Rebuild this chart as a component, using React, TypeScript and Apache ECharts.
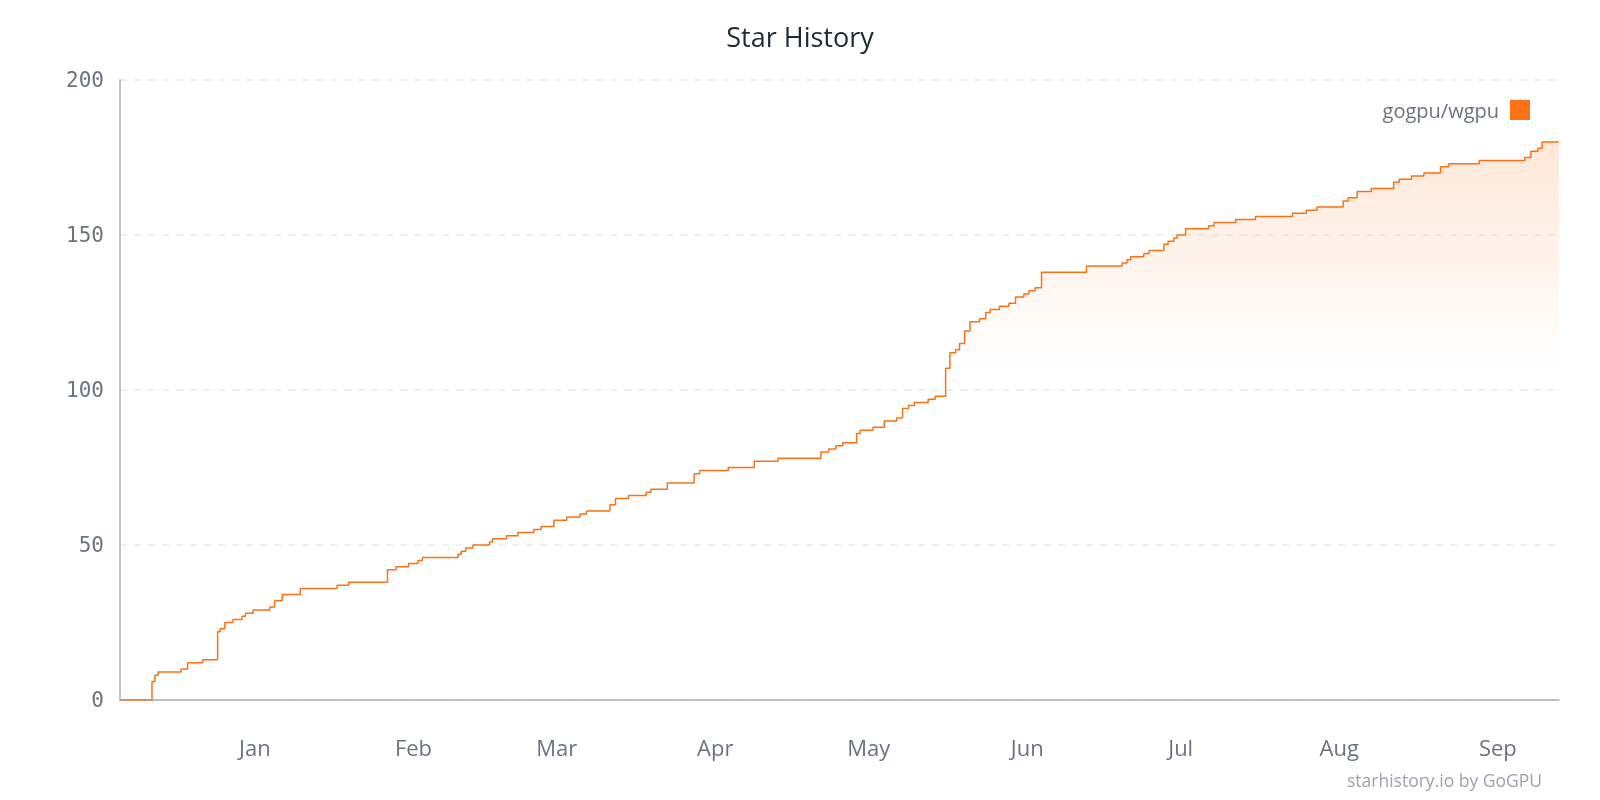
import React, { useEffect, useRef } from 'react'
import * as echarts from 'echarts'

// star count steps (date of each new count)
const starDates = [
  '2024-12-05 15:00', '2024-12-11 21:00', '2024-12-12 11:00', '2024-12-13 01:00', '2024-12-17 14:00',
  '2024-12-18 20:00', '2024-12-21 19:00', '2024-12-24 17:00', '2024-12-25 05:00', '2024-12-26 03:00',
  '2024-12-27 17:00', '2024-12-29 12:00', '2024-12-30 04:00', '2024-12-31 16:00', '2025-01-03 22:00',
  '2025-01-04 20:00', '2025-01-06 08:00', '2025-01-09 21:00', '2025-01-17 02:00', '2025-01-19 08:00',
  '2025-01-26 22:00', '2025-01-28 14:00', '2025-01-31 01:00', '2025-02-01 21:00', '2025-02-02 18:00',
  '2025-02-09 17:00', '2025-02-10 08:00', '2025-02-11 05:00', '2025-02-12 15:00', '2025-02-15 21:00',
  '2025-02-16 11:00', '2025-02-19 05:00', '2025-02-21 10:00', '2025-02-24 13:00', '2025-02-25 23:00',
  '2025-02-28 11:00', '2025-03-02 23:00', '2025-03-05 13:00', '2025-03-06 20:00', '2025-03-11 10:00',
  '2025-03-12 12:00', '2025-03-15 01:00', '2025-03-18 12:00', '2025-03-19 10:00', '2025-03-22 15:00',
  '2025-03-27 21:00', '2025-03-28 23:00', '2025-04-03 13:00', '2025-04-08 15:00', '2025-04-13 07:00',
  '2025-04-21 16:00', '2025-04-23 04:00', '2025-04-24 14:00', '2025-04-25 22:00', '2025-04-28 15:00',
  '2025-04-29 08:00', '2025-05-01 20:00', '2025-05-04 01:00', '2025-05-06 11:00', '2025-05-07 15:00',
  '2025-05-08 19:00', '2025-05-09 23:00', '2025-05-12 15:00', '2025-05-14 00:00', '2025-05-16 01:00',
  '2025-05-16 21:00', '2025-05-18 00:00', '2025-05-18 18:00', '2025-05-19 18:00', '2025-05-20 19:00',
  '2025-05-22 16:00', '2025-05-23 21:00', '2025-05-24 18:00', '2025-05-26 14:00', '2025-05-28 10:00',
  '2025-05-29 17:00', '2025-05-31 08:00', '2025-06-01 08:00', '2025-06-02 13:00', '2025-06-03 19:00',
  '2025-06-12 14:00', '2025-06-19 13:00', '2025-06-20 12:00', '2025-06-21 05:00', '2025-06-23 19:00',
  '2025-06-24 20:00', '2025-06-27 17:00', '2025-06-28 13:00', '2025-06-29 16:00', '2025-06-30 07:00',
  '2025-07-01 23:00', '2025-07-06 11:00', '2025-07-07 13:00', '2025-07-11 18:00', '2025-07-15 15:00',
  '2025-07-22 20:00', '2025-07-25 13:00', '2025-07-27 15:00', '2025-08-01 18:00', '2025-08-02 18:00',
  '2025-08-04 12:00', '2025-08-07 06:00', '2025-08-11 15:00', '2025-08-12 17:00', '2025-08-15 03:00',
  '2025-08-17 13:00', '2025-08-20 19:00', '2025-08-22 10:00', '2025-08-28 09:00', '2025-09-06 06:00',
  '2025-09-07 11:00', '2025-09-08 20:00', '2025-09-09 16:00', '2025-09-12 23:00',
]

const starCounts = [
  0, 6, 8, 9, 10,
  12, 13, 22, 23, 25,
  26, 27, 28, 29, 30,
  32, 34, 36, 37, 38,
  42, 43, 44, 45, 46,
  47, 48, 49, 50, 51,
  52, 53, 54, 55, 56,
  58, 59, 60, 61, 63,
  65, 66, 67, 68, 70,
  73, 74, 75, 77, 78,
  80, 81, 82, 83, 86,
  87, 88, 90, 91, 94,
  95, 96, 97, 98, 107,
  112, 113, 115, 119, 122,
  123, 125, 126, 127, 128,
  130, 131, 132, 133, 138,
  140, 141, 142, 143, 144,
  145, 147, 148, 149, 150,
  152, 153, 154, 155, 156,
  157, 158, 159, 161, 162,
  164, 165, 167, 168, 169,
  170, 172, 173, 174, 175,
  177, 178, 180, 180,
]

const monthStarts = [
  '2025-01-01', '2025-02-01', '2025-03-01', '2025-04-01', '2025-05-01',
  '2025-06-01', '2025-07-01', '2025-08-01', '2025-09-01',
]
const monthNames = ['Jan', 'Feb', 'Mar', 'Apr', 'May', 'Jun', 'Jul', 'Aug', 'Sep', 'Oct', 'Nov', 'Dec']

const repoName = 'gogpu/wgpu'
const orange = '#f97316'
const sans = '"Open Sans", sans-serif'

const toTime = (s: string) => {
  const [d, t] = s.split(' ')
  const [y, m, day] = d.split('-').map(Number)
  const h = t ? Number(t.split(':')[0]) : 0
  return new Date(y, m - 1, day, h).getTime()
}

const App = () => {
  const chartRef = useRef<HTMLDivElement>(null)

  useEffect(() => {
    if (!chartRef.current) return
    const chart = echarts.init(chartRef.current, null, { renderer: 'svg' })

    const seriesData = starDates.map((d, i) => [toTime(d), starCounts[i]])
    const tickValues = monthStarts.map(toTime)

    chart.setOption({
      animation: false,
      title: {
        text: 'Star History',
        left: 'center',
        top: 18,
        textStyle: { fontFamily: sans, fontSize: 27, fontWeight: 'normal', color: '#1f2937' },
      },
      legend: {
        data: [repoName],
        right: 70,
        top: 100,
        padding: 0,
        align: 'right',
        icon: 'rect',
        itemWidth: 20,
        itemHeight: 20,
        itemGap: 10,
        textStyle: { fontFamily: sans, fontSize: 20, color: '#6b7280', padding: [0, 6, 0, 0] },
      },
      grid: { left: 120, right: 41, top: 80, bottom: 100 },
      xAxis: {
        type: 'value',
        min: toTime(starDates[0]),
        max: toTime(starDates[starDates.length - 1]),
        axisLine: { lineStyle: { color: '#a7adb8', width: 1.5 } },
        axisTick: { show: false },
        splitLine: { show: false },
        axisLabel: {
          customValues: tickValues,
          formatter: (v: number) => monthNames[new Date(v).getMonth()],
          fontFamily: sans,
          fontSize: 22,
          color: '#6b7280',
          margin: 36,
          hideOverlap: false,
        },
      },
      yAxis: {
        type: 'value',
        min: 0,
        max: 200,
        interval: 50,
        axisLine: { show: true, lineStyle: { color: '#a7adb8', width: 1.5 } },
        axisTick: { show: false },
        splitLine: { lineStyle: { color: '#ececec', width: 1.5, type: [7, 7] } },
        axisLabel: {
          fontFamily: '"DejaVu Sans Mono", monospace',
          fontSize: 21,
          color: '#6b7280',
          margin: 16,
        },
      },
      graphic: [
        {
          type: 'text',
          right: 58,
          top: 771,
          style: {
            text: 'starhistory.io by GoGPU',
            fontFamily: sans,
            fontSize: 17.5,
            fill: '#9ca3af',
          },
        },
      ],
      series: [
        {
          name: repoName,
          type: 'line',
          step: 'end',
          showSymbol: false,
          data: seriesData,
          itemStyle: { color: orange },
          lineStyle: { color: orange, width: 1.5 },
          areaStyle: {
            color: new echarts.graphic.LinearGradient(0, 0, 0, 1, [
              { offset: 0, color: 'rgba(249,115,22,0.24)' },
              { offset: 0.4, color: 'rgba(249,115,22,0)' },
            ]),
          },
        },
      ],
    })

    return () => {
      chart.dispose()
    }
  }, [])

  return <div ref={chartRef} style={{ position: 'fixed', left: 0, top: 0, width: '1600px', height: '800px' }} />
}

export default App
